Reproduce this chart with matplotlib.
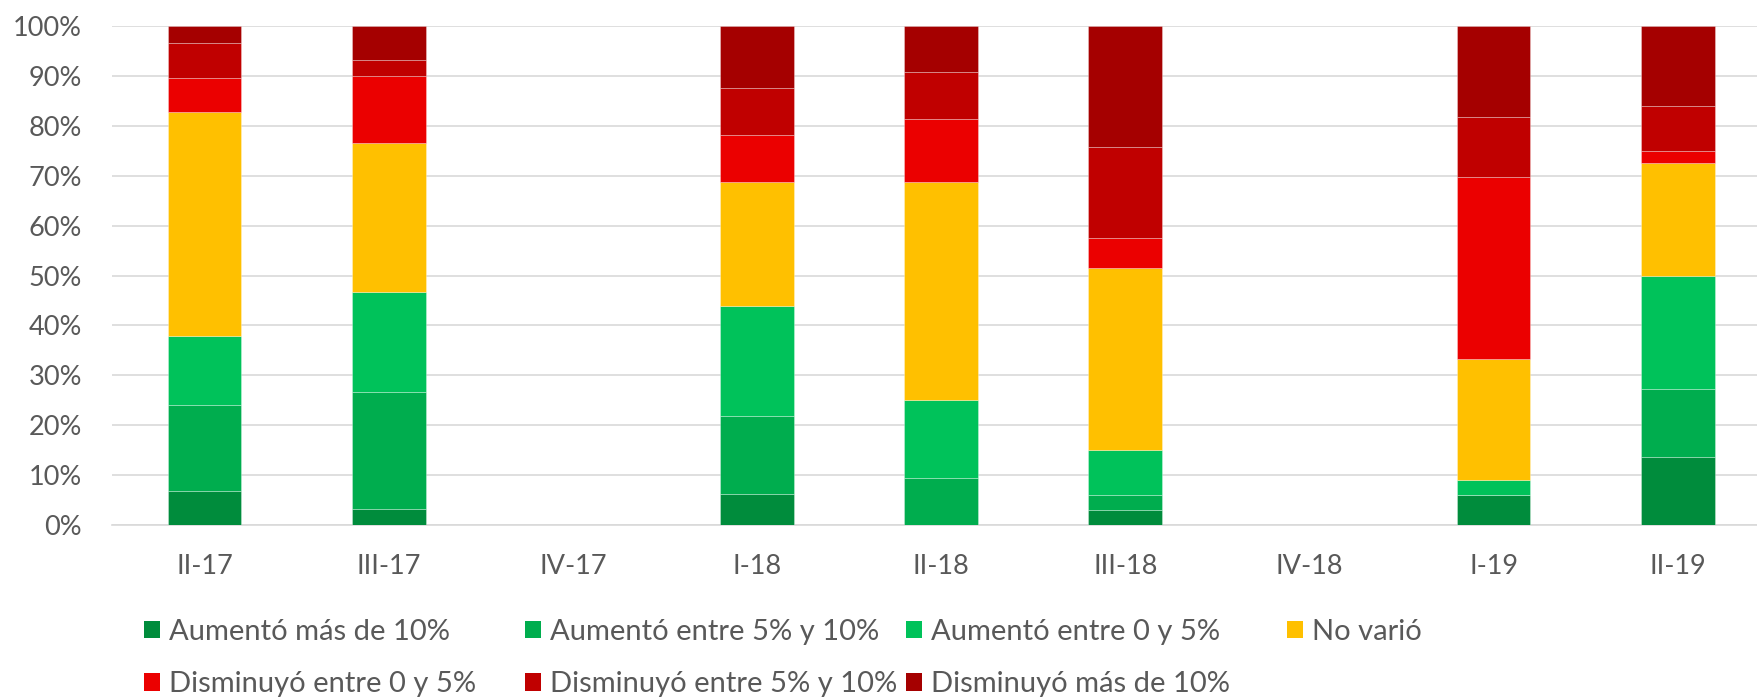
import matplotlib
matplotlib.use("Agg")
import matplotlib.pyplot as plt
from matplotlib.patches import Patch
import numpy as np

plt.rcParams["font.family"] = ["Lato", "DejaVu Sans"]

quarters = ["II-17", "III-17", "IV-17", "I-18", "II-18", "III-18", "IV-18", "I-19", "II-19"]
series = ["Aumentó más de 10%", "Aumentó entre 5% y 10%", "Aumentó entre 0 y 5%",
          "No varió", "Disminuyó entre 0 y 5%", "Disminuyó entre 5% y 10%",
          "Disminuyó más de 10%"]
colors = ["#008C3C", "#00AD4E", "#00C25A", "#FFC000", "#EB0000", "#C00000", "#A50000"]

# shares per quarter (%), IV-17 and IV-18 have no data
aum_mas10 = [6.9, 3.3, 0, 6.3, 0.0, 3.0, 0, 6.1, 13.6]
aum_5_10 = [17.2, 23.3, 0, 15.6, 9.4, 3.0, 0, 0.0, 13.6]
aum_0_5 = [13.8, 20.0, 0, 21.9, 15.6, 9.1, 0, 3.0, 22.7]
no_vario = [44.8, 30.0, 0, 25.0, 43.8, 36.4, 0, 24.2, 22.7]
dis_0_5 = [6.9, 13.3, 0, 9.4, 12.5, 6.1, 0, 36.4, 2.3]
dis_5_10 = [6.9, 3.3, 0, 9.4, 9.4, 18.2, 0, 12.1, 9.1]
dis_mas10 = [3.5, 6.8, 0, 12.4, 9.3, 24.2, 0, 18.2, 16.0]

values = [aum_mas10, aum_5_10, aum_0_5, no_vario, dis_0_5, dis_5_10, dis_mas10]

W, H = 1758, 698
fig = plt.figure(figsize=(W / 100, H / 100), dpi=100)
ax = fig.add_axes([112.5 / W, (H - 525) / H, (W - 112.5) / W, (525 - 26) / H])

x = np.arange(len(quarters))
bottom = np.zeros(len(quarters))
for vals, col in zip(values, colors):
    v = np.array(vals, float)
    ax.bar(x, v, 0.40, bottom=bottom, color=col, edgecolor=(1, 1, 1, 0.35),
           linewidth=0.6, zorder=3)
    bottom += v

ax.set_ylim(0, 100)
ax.set_xlim(-0.5, -0.5 + (W - 112.5) / 184.15)
ax.set_yticks(np.arange(0, 101, 10))
ax.set_yticklabels([f"{t}%" for t in range(0, 101, 10)])
ax.set_xticks(x)
ax.set_xticklabels(quarters)
ax.tick_params(axis="both", length=0, labelsize=19.5, colors="#595959")
ax.tick_params(axis="x", pad=21)
ax.tick_params(axis="y", pad=22)
ax.grid(axis="y", color="#d9d9d9", linewidth=1.2, zorder=0)
for s in ["top", "right", "left"]:
    ax.spines[s].set_visible(False)
ax.spines["bottom"].set_color("#d9d9d9")
ax.spines["bottom"].set_linewidth(1.2)

# legend laid out as Excel does: fixed column slots, filled row by row
handles = [Patch(facecolor=c, edgecolor="none") for c in colors]
col_x = [144, 525, 906, 1287]
columns = [[0, 4], [1, 5], [2, 6], [3]]
for cx, idx in zip(col_x, columns):
    fig.legend([handles[i] for i in idx], [series[i] for i in idx],
               loc="upper left", bbox_to_anchor=(cx / W, 1 - 619 / H),
               frameon=False, fontsize=21, labelcolor="#595959",
               handlelength=0.55, handleheight=0.55, handletextpad=0.3,
               labelspacing=0.9, borderpad=0, borderaxespad=0)

fig.savefig("out.png", dpi=100)
